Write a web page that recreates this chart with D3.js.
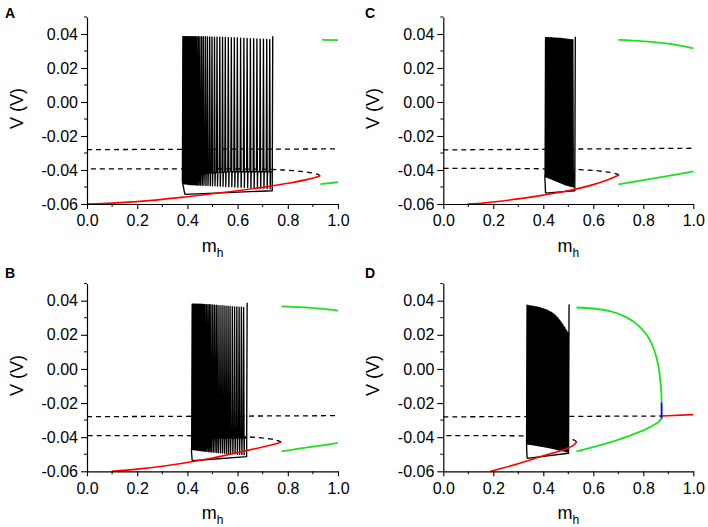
<!DOCTYPE html>
<html><head><meta charset="utf-8">
<script src="https://cdn.jsdelivr.net/npm/d3@7"></script>
<style>
html,body{margin:0;padding:0;background:#fff;}
svg{display:block;font-family:"Liberation Sans",Arial,sans-serif;}
</style></head>
<body><svg id="c" width="708" height="527"></svg>
<script>
// ---------------- DATA ----------------
const xTicks = [0, 0.2, 0.4, 0.6, 0.8, 1.0];
const xMinor = [0.1, 0.3, 0.5, 0.7, 0.9];
const yTicks = [-0.06, -0.04, -0.02, 0.00, 0.02, 0.04];
const yMinor = [-0.05, -0.03, -0.01, 0.01, 0.03, 0.05];
const panelLabels = ["A", "C", "B", "D"];
const xLabel = "m", xLabelSub = "h", yLabel = "V (V)";

// Panel A
const redA = [[0.0,-0.0600],[0.1,-0.0595],[0.2,-0.0586],[0.3,-0.0573],[0.4,-0.0557],[0.5,-0.0540],[0.6,-0.0522],[0.7,-0.0502],[0.8,-0.0478],[0.88,-0.0455],[0.929,-0.0435]];
const midA = [[0.929,-0.0435],[0.92,-0.0426],[0.90,-0.0418],[0.86,-0.0409],[0.80,-0.0402],[0.74,-0.0397],[0.6,-0.0394],[0.3,-0.0393],[0.0,-0.0393]];
const upA = [[0.0,-0.0280],[1.0,-0.0276]];
const greenHiA = [[0.936,0.0366],[1.0,0.0364]];
const greenLoA = [[0.930,-0.0483],[1.0,-0.0472]];
const entryA = [[0.390,-0.0543],[0.381,-0.0478]];
const exitA = [[0.738,-0.0522],[0.390,-0.0543]];
// spikes: [m_h, peak V, inter-spike base V, AHP minimum V]
const spikesA = [
[0.380,0.0384,-0.0465,-0.0480],[0.382,0.0384,-0.0463,-0.0480],[0.384,0.0384,-0.0461,-0.0481],[0.386,0.0384,-0.0459,-0.0481],
[0.388,0.0384,-0.0457,-0.0482],[0.390,0.0384,-0.0455,-0.0482],[0.393,0.0384,-0.0453,-0.0483],[0.396,0.0384,-0.0451,-0.0483],
[0.399,0.0384,-0.0449,-0.0484],[0.402,0.0384,-0.0447,-0.0484],[0.405,0.0384,-0.0445,-0.0485],[0.409,0.0384,-0.0443,-0.0485],
[0.413,0.0384,-0.0441,-0.0486],[0.417,0.0384,-0.0439,-0.0486],[0.421,0.0384,-0.0437,-0.0487],[0.426,0.0384,-0.0435,-0.0487],
[0.431,0.0384,-0.0433,-0.0488],[0.436,0.0384,-0.0431,-0.0488],[0.442,0.0384,-0.0429,-0.0489],[0.448,0.0384,-0.0427,-0.0489],
[0.455,0.0384,-0.0425,-0.0490],[0.462,0.0384,-0.0423,-0.0490],[0.470,0.0384,-0.0421,-0.0491],[0.478,0.0383,-0.0419,-0.0491],
[0.487,0.0383,-0.0418,-0.0492],[0.496,0.0383,-0.0417,-0.0492],[0.506,0.0382,-0.0416,-0.0493],[0.516,0.0382,-0.0415,-0.0494],
[0.527,0.0381,-0.0414,-0.0495],[0.538,0.0381,-0.0413,-0.0496],[0.549,0.0380,-0.0412,-0.0497],[0.561,0.0379,-0.0411,-0.0498],
[0.573,0.0378,-0.0410,-0.0499],[0.585,0.0378,-0.0410,-0.0500],[0.597,0.0377,-0.0410,-0.0501],[0.610,0.0376,-0.0410,-0.0502],
[0.623,0.0375,-0.0410,-0.0503],[0.636,0.0374,-0.0410,-0.0504],[0.649,0.0373,-0.0410,-0.0505],[0.662,0.0372,-0.0410,-0.0506],
[0.675,0.0371,-0.0410,-0.0507],[0.688,0.0370,-0.0410,-0.0508],[0.701,0.0369,-0.0410,-0.0509],[0.714,0.0368,-0.0410,-0.0510],
[0.726,0.0367,-0.0410,-0.0511],[0.738,0.0384,-0.0410,-0.0522]];

// Panel C
const redC = [[0.096,-0.0600],[0.15,-0.0596],[0.2,-0.0588],[0.3,-0.0570],[0.4,-0.0548],[0.5,-0.0522],[0.6,-0.0486],[0.656,-0.0459],[0.703,-0.0430]];
const midC = [[0.703,-0.0430],[0.69,-0.0422],[0.66,-0.0413],[0.62,-0.0405],[0.56,-0.0399],[0.45,-0.0394],[0.2,-0.0391],[0.0,-0.0390]];
const upC = [[0.0,-0.0282],[1.0,-0.0272]];
const greenHiC = [[0.700,0.0365],[0.80,0.0357],[0.90,0.0343],[1.0,0.0316]];
const greenLoC = [[0.700,-0.0484],[0.80,-0.0460],[0.90,-0.0435],[1.0,-0.0408]];
const entryC = [[0.409,-0.0536],[0.406,-0.0432]];
const exitC = [[0.526,-0.0522],[0.409,-0.0536]];
const spikesC = [
[0.407,0.0378,-0.0432,-0.0440],[0.409,0.0378,-0.0431,-0.0441],[0.411,0.0378,-0.0430,-0.0442],[0.414,0.0378,-0.0429,-0.0444],
[0.417,0.0378,-0.0428,-0.0446],[0.420,0.0378,-0.0427,-0.0448],[0.424,0.0378,-0.0427,-0.0450],[0.428,0.0378,-0.0426,-0.0452],
[0.432,0.0378,-0.0425,-0.0455],[0.436,0.0377,-0.0425,-0.0458],[0.441,0.0377,-0.0424,-0.0461],[0.446,0.0377,-0.0424,-0.0464],
[0.451,0.0376,-0.0423,-0.0467],[0.456,0.0376,-0.0423,-0.0470],[0.461,0.0375,-0.0422,-0.0473],[0.466,0.0375,-0.0422,-0.0476],
[0.471,0.0374,-0.0421,-0.0479],[0.476,0.0373,-0.0421,-0.0482],[0.481,0.0372,-0.0420,-0.0485],[0.486,0.0371,-0.0420,-0.0488],
[0.491,0.0370,-0.0419,-0.0490],[0.496,0.0369,-0.0419,-0.0492],[0.501,0.0368,-0.0418,-0.0494],[0.506,0.0367,-0.0418,-0.0496],
[0.511,0.0367,-0.0418,-0.0498],[0.516,0.0366,-0.0418,-0.0500],[0.526,0.0382,-0.0418,-0.0522]];

// Panel B
const redB = [[0.10,-0.0600],[0.2,-0.0587],[0.3,-0.0570],[0.4,-0.0548],[0.5,-0.0522],[0.6,-0.0490],[0.7,-0.0458],[0.745,-0.0442],[0.774,-0.0428]];
const midB = [[0.774,-0.0428],[0.76,-0.0420],[0.73,-0.0410],[0.68,-0.0402],[0.6,-0.0396],[0.45,-0.0392],[0.0,-0.0391]];
const upB = [[0.0,-0.0280],[1.0,-0.0274]];
const greenHiB = [[0.775,0.0367],[0.85,0.0362],[0.93,0.0353],[1.0,0.0341]];
const greenLoB = [[0.775,-0.0483],[0.85,-0.0466],[0.93,-0.0449],[1.0,-0.0434]];
const entryB = [[0.419,-0.0538],[0.416,-0.0475]];
const exitB = [[0.636,-0.0514],[0.419,-0.0538]];
const spikesB = [
[0.417,0.0379,-0.0460,-0.0472],[0.419,0.0379,-0.0457,-0.0472],[0.421,0.0379,-0.0454,-0.0473],[0.423,0.0379,-0.0451,-0.0473],
[0.425,0.0379,-0.0448,-0.0474],[0.428,0.0379,-0.0445,-0.0474],[0.431,0.0379,-0.0442,-0.0475],[0.434,0.0379,-0.0439,-0.0476],
[0.437,0.0379,-0.0436,-0.0476],[0.441,0.0379,-0.0433,-0.0477],[0.445,0.0379,-0.0430,-0.0478],[0.449,0.0379,-0.0427,-0.0479],
[0.453,0.0379,-0.0424,-0.0480],[0.458,0.0378,-0.0421,-0.0481],[0.463,0.0378,-0.0418,-0.0482],[0.468,0.0378,-0.0416,-0.0483],
[0.474,0.0377,-0.0414,-0.0484],[0.480,0.0377,-0.0412,-0.0485],[0.486,0.0376,-0.0410,-0.0486],[0.492,0.0376,-0.0408,-0.0487],
[0.499,0.0375,-0.0407,-0.0488],[0.506,0.0374,-0.0406,-0.0489],[0.513,0.0373,-0.0405,-0.0490],[0.520,0.0372,-0.0405,-0.0491],
[0.528,0.0371,-0.0405,-0.0492],[0.536,0.0370,-0.0405,-0.0493],[0.544,0.0369,-0.0405,-0.0494],[0.552,0.0368,-0.0405,-0.0495],
[0.560,0.0367,-0.0405,-0.0496],[0.568,0.0366,-0.0405,-0.0497],[0.577,0.0365,-0.0405,-0.0498],[0.586,0.0364,-0.0405,-0.0499],
[0.595,0.0363,-0.0405,-0.0500],[0.604,0.0362,-0.0405,-0.0501],[0.613,0.0362,-0.0405,-0.0502],[0.622,0.0361,-0.0405,-0.0503],
[0.636,0.0385,-0.0405,-0.0514]];

// Panel D
const redD = [[0.189,-0.0600],[0.25,-0.0576],[0.309,-0.0551],[0.36,-0.0528],[0.40,-0.0509],[0.45,-0.0488],[0.495,-0.0466],[0.52,-0.0448],[0.533,-0.0428]];
const midD = [[0.533,-0.0428],[0.525,-0.0418],[0.51,-0.0412],[0.48,-0.0405],[0.42,-0.0396],[0.3,-0.0392],[0.0,-0.0391]];
const upD = [[0.0,-0.0281],[0.873,-0.0276]];
const redHiD = [[0.873,-0.0276],[1.0,-0.0268]];
const blueD = [[0.8735,-0.0290],[0.873,-0.0197]];
const greenHiD = [[0.533,0.0360],[0.60,0.0354],[0.667,0.0338],[0.733,0.0302],[0.78,0.0255],[0.82,0.0185],[0.845,0.0105],[0.86,0.0020],[0.868,-0.0070],[0.872,-0.0140],[0.873,-0.0197]];
const greenLoD = [[0.533,-0.0483],[0.60,-0.0458],[0.667,-0.0430],[0.733,-0.0398],[0.80,-0.0360],[0.84,-0.0330],[0.86,-0.0312],[0.873,-0.0290]];
const entryD = [[0.335,-0.0524],[0.333,-0.0440]];
const exitD = [[0.501,-0.0494],[0.335,-0.0524]];
const spikesD = [
[0.333,0.0373,-0.0420,-0.0440],[0.336,0.0372,-0.0419,-0.0441],[0.339,0.0371,-0.0417,-0.0441],[0.342,0.0370,-0.0416,-0.0442],
[0.345,0.0369,-0.0415,-0.0442],[0.348,0.0368,-0.0413,-0.0443],[0.351,0.0367,-0.0412,-0.0444],[0.354,0.0367,-0.0410,-0.0444],
[0.357,0.0366,-0.0409,-0.0445],[0.360,0.0366,-0.0408,-0.0446],[0.364,0.0365,-0.0406,-0.0447],[0.368,0.0364,-0.0405,-0.0448],
[0.372,0.0363,-0.0403,-0.0449],[0.376,0.0362,-0.0402,-0.0450],[0.380,0.0361,-0.0400,-0.0451],[0.384,0.0359,-0.0399,-0.0452],
[0.388,0.0357,-0.0397,-0.0453],[0.392,0.0355,-0.0396,-0.0454],[0.396,0.0353,-0.0394,-0.0455],[0.400,0.0351,-0.0393,-0.0456],
[0.404,0.0349,-0.0391,-0.0457],[0.408,0.0347,-0.0390,-0.0458],[0.412,0.0345,-0.0388,-0.0459],[0.416,0.0342,-0.0387,-0.0460],
[0.420,0.0339,-0.0385,-0.0462],[0.424,0.0336,-0.0384,-0.0463],[0.428,0.0333,-0.0382,-0.0464],[0.432,0.0329,-0.0381,-0.0466],
[0.436,0.0325,-0.0379,-0.0467],[0.440,0.0321,-0.0378,-0.0468],[0.444,0.0316,-0.0376,-0.0470],[0.448,0.0311,-0.0375,-0.0471],
[0.452,0.0305,-0.0373,-0.0472],[0.456,0.0299,-0.0372,-0.0474],[0.460,0.0292,-0.0370,-0.0475],[0.464,0.0284,-0.0369,-0.0476],
[0.468,0.0276,-0.0367,-0.0478],[0.472,0.0268,-0.0366,-0.0479],[0.476,0.0259,-0.0365,-0.0480],[0.480,0.0250,-0.0364,-0.0482],
[0.484,0.0241,-0.0363,-0.0483],[0.488,0.0232,-0.0362,-0.0485],[0.492,0.0223,-0.0361,-0.0486],[0.496,0.0212,-0.0360,-0.0488],
[0.501,0.0375,-0.0360,-0.0494]];

// ---------------- DRAWING ----------------
const svg = d3.select("#c");
const panels = [
  {lab:panelLabels[0], x0:87,  x1:338,   yb:204,   yt:17,    lx:5,   ly:18,  red:[redA], mid:midA, up:upA, greens:[greenHiA,greenLoA], blue:null, entry:entryA, exit:exitA, spikes:spikesA},
  {lab:panelLabels[1], x0:443.3, x1:693.3, yb:204,   yt:17,    lx:365, ly:18,  red:[redC], mid:midC, up:upC, greens:[greenHiC,greenLoC], blue:null, entry:entryC, exit:exitC, spikes:spikesC},
  {lab:panelLabels[2], x0:87,  x1:338,   yb:471.3, yt:283.6, lx:5,   ly:278, red:[redB], mid:midB, up:upB, greens:[greenHiB,greenLoB], blue:null, entry:entryB, exit:exitB, spikes:spikesB},
  {lab:panelLabels[3], x0:443.3, x1:693.3, yb:471.3, yt:283.6, lx:365, ly:278, red:[redD,redHiD], mid:midD, up:upD, greens:[greenHiD,greenLoD], blue:blueD, entry:entryD, exit:exitD, spikes:spikesD}
];

panels.forEach(p => {
  const x = d3.scaleLinear().domain([0,1]).range([p.x0,p.x1]);
  const y = d3.scaleLinear().domain([-0.06,0.05]).range([p.yb,p.yt]);
  const g = svg.append("g");
  const smooth = d3.line().x(d=>x(d[0])).y(d=>y(d[1])).curve(d3.curveCatmullRom.alpha(0.5));
  const straight = d3.line().x(d=>x(d[0])).y(d=>y(d[1]));

  // burst trajectory (each spike drawn with a small up/down stroke width)
  const a = 0.0020;
  const pts = p.entry.slice();
  p.spikes.forEach((s,i) => {
    pts.push([s[0], s[2]]);
    pts.push([s[0]+a, s[1]]);
    if (i === p.spikes.length-1) {
      p.exit.forEach(e => pts.push(e));
    } else {
      pts.push([s[0]+2*a, s[3]]);
      pts.push([s[0]+2.6*a, s[2]]);
    }
  });
  g.append("path").attr("d", straight(pts)).attr("fill","none")
    .attr("stroke","#000").attr("stroke-width",1.35).attr("stroke-linejoin","round");

  // unstable branches (dashed)
  [p.up, p.mid].forEach(d => {
    g.append("path").attr("d", smooth(d)).attr("fill","none").attr("stroke","#000")
      .attr("stroke-width",1.3).attr("stroke-dasharray","5,4");
  });
  // stable fixed points (red)
  p.red.forEach(d => g.append("path").attr("d", smooth(d)).attr("fill","none").attr("stroke","#f00").attr("stroke-width",1.6));
  // stable periodic orbits (green)
  p.greens.forEach(d => g.append("path").attr("d", smooth(d)).attr("fill","none").attr("stroke","#1ee01e").attr("stroke-width",1.8));
  if (p.blue) g.append("path").attr("d", straight(p.blue)).attr("fill","none").attr("stroke","#00f").attr("stroke-width",1.8);

  // axes
  const ax = g.append("g").attr("transform",`translate(0,${p.yb})`)
    .call(d3.axisBottom(x).tickValues(xTicks).tickFormat(d=>d.toFixed(1)).tickSize(5).tickSizeOuter(0).tickPadding(6));
  ax.append("g").selectAll("line").data(xMinor).join("line")
    .attr("x1",d=>x(d)).attr("x2",d=>x(d)).attr("y1",0).attr("y2",3).attr("stroke","#000").attr("stroke-width",1);
  const ay = g.append("g").attr("transform",`translate(${p.x0},0)`)
    .call(d3.axisLeft(y).tickValues(yTicks).tickFormat(d=>d.toFixed(2)).tickSize(6).tickSizeOuter(0).tickPadding(3));
  ay.append("g").selectAll("line").data(yMinor).join("line")
    .attr("y1",d=>y(d)).attr("y2",d=>y(d)).attr("x1",0).attr("x2",-3).attr("stroke","#000").attr("stroke-width",1);
  [ax, ay].forEach(a2 => {
    a2.selectAll("text").attr("font-size",16).attr("fill","#000").attr("font-family","Liberation Sans, Arial, sans-serif");
    a2.selectAll(".domain").attr("stroke","#000").attr("stroke-width",1.2);
    a2.selectAll(".tick line").attr("stroke","#000").attr("stroke-width",1.1);
  });

  // axis titles
  const xt = g.append("text").attr("x",(p.x0+p.x1)/2).attr("y",p.yb+48)
    .attr("text-anchor","middle").attr("font-size",18).attr("fill","#000");
  xt.append("tspan").text(xLabel);
  xt.append("tspan").attr("dy",5).attr("font-size",12).attr("fill","#000").text(xLabelSub);
  g.append("text").attr("transform",`translate(${p.x0-64},${(p.yb+p.yt)/2-2}) rotate(-90)`)
    .attr("text-anchor","middle").attr("font-size",18).attr("fill","#000").text(yLabel);

  // panel letter
  g.append("text").attr("x",p.lx).attr("y",p.ly).attr("font-size",14).attr("font-weight","bold").attr("fill","#000").text(p.lab);
});
</script></body></html>
